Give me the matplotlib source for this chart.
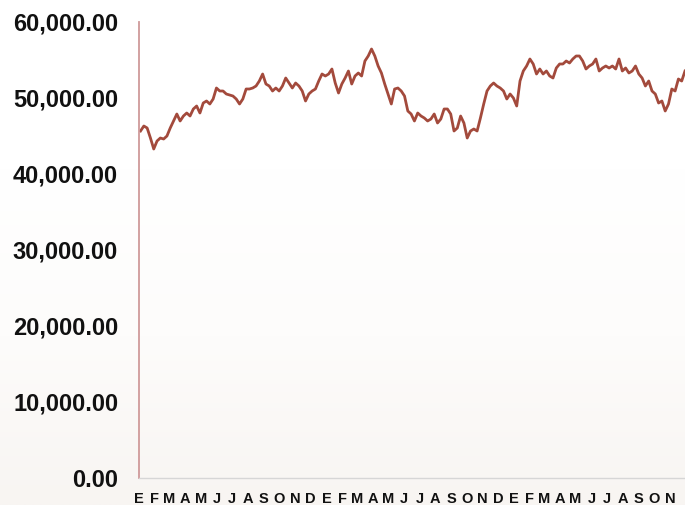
import numpy as np
import pandas as pd
import matplotlib
matplotlib.use("Agg")
import matplotlib.pyplot as plt
import matplotlib.dates as mdates
from matplotlib.ticker import FuncFormatter
from matplotlib.colors import LinearSegmentedColormap

plt.rcParams['font.family'] = ['Liberation Sans', 'DejaVu Sans']

# Index level, roughly weekly samples from Jan 2021 to end of Nov 2023
start_date = "2021-01-04"
end_date = "2023-11-30"
values = [
    45660, 46316, 46053, 44737, 43289, 44342, 44737, 44605, 45000, 46053,
    46974, 47895, 46974, 47632, 48026, 47632, 48553, 48947, 48026, 49342,
    49605, 49211, 49868, 51316, 50921, 50921, 50526, 50395, 50263, 49868,
    49211, 49868, 51184, 51184, 51316, 51579, 52237, 53158, 51842,
    51579, 50921, 51316, 50921, 51579, 52632, 51974, 51316, 51974, 51579,
    50921, 49605, 50526, 50921, 51184, 52237, 53158, 52895, 53158, 53816,
    51974, 50658, 51842, 52632, 53553, 51842, 52895, 53289, 52895, 54868,
    55526, 56447, 55526, 54211, 53289, 51842, 50526, 49211, 51184, 51316,
    50921,
    50263, 48289, 47895, 46974, 48026, 47632, 47368, 46974, 47237, 47895,
    46711, 47237, 48553, 48553, 47895, 45658, 46053, 47632, 46711, 44737,
    45658, 45921, 45658, 47368, 49211, 50921, 51579, 51974, 51579, 51316,
    50921, 49868, 50526, 50000, 48947, 52237, 53553, 54211, 55132, 54474,
    53158, 53816,
    53158, 53553, 52895, 52632, 53947, 54474, 54474, 54868, 54605, 55132,
    55526, 55526, 54868, 53816, 54211, 54474, 55132, 53553, 53947, 54211,
    53947, 54211, 53816, 55132, 53553, 53947, 53289, 53553, 54211, 53158,
    52632, 51579, 52237, 50921, 50526, 49342, 49605, 48289, 49211, 51184,
    50921, 52500, 52237, 53553,
]
month_initials = ["E", "F", "M", "A", "M", "J", "J", "A", "S", "O", "N", "D"]
y_ticks = [0, 10000, 20000, 30000, 40000, 50000, 60000]

dates = pd.date_range(start_date, end_date, periods=len(values))

fig = plt.figure(figsize=(6.85, 5.05), dpi=100)

# background gradient
bg = fig.add_axes([0, 0, 1, 1], zorder=-10)
cmap = LinearSegmentedColormap.from_list("bgc", ["#f8f5f2", "#fdfcfb", "#ffffff", "#ffffff"])
grad = np.linspace(0, 1, 256).reshape(-1, 1)
bg.imshow(grad, aspect="auto", cmap=cmap, extent=[0, 1, 0, 1], origin="lower")
bg.axis("off")

ax = fig.add_axes([139 / 685, 1 - 478 / 505, (685 - 139) / 685, (478 - 22) / 505])
ax.set_facecolor("none")
ax.plot(dates, values, color="#a34a3c", lw=2.0, solid_joinstyle="round")

ax.set_ylim(0, 60000)
ax.set_yticks(y_ticks)
ax.yaxis.set_major_formatter(FuncFormatter(lambda v, p: f"{v:,.2f}"))
ax.set_xlim(pd.Timestamp("2021-01-01"), pd.Timestamp("2023-11-30"))
ax.xaxis.set_major_locator(mdates.MonthLocator())
ax.xaxis.set_major_formatter(FuncFormatter(lambda v, p: month_initials[mdates.num2date(v).month - 1]))

ax.tick_params(axis="y", length=0, pad=15, labelsize=17)
ax.tick_params(axis="x", length=0, pad=10, labelsize=10.5)
for lab in ax.get_yticklabels() + ax.get_xticklabels():
    lab.set_fontweight("bold")
    lab.set_color("#111111")

for s in ["top", "right"]:
    ax.spines[s].set_visible(False)
ax.spines["left"].set_color("#cf9a9a")
ax.spines["left"].set_linewidth(1.3)
ax.spines["bottom"].set_color("#d6d6d6")
ax.spines["bottom"].set_linewidth(1.0)

fig.savefig("out.png", dpi=100)
